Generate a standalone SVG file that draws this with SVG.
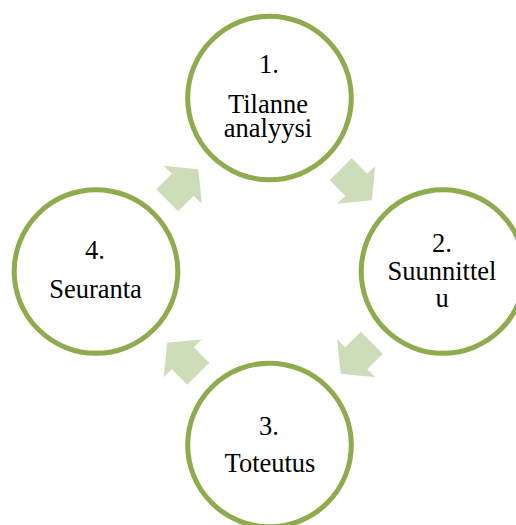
<svg xmlns="http://www.w3.org/2000/svg" width="516" height="525" viewBox="0 0 516 525">
<defs>
<style>
.node circle{fill:#ffffff;stroke:#8eac4e;stroke-width:5}
.node text{font-family:"Liberation Serif","Times New Roman",serif;font-size:26.5px;fill:#000;text-anchor:middle}
.arrow{fill:#cddcb9}
</style>
<polygon id="arr" points="-22,-15.5 0,-15.5 0,-27 22,0 0,27 0,15.5 -22,15.5"/>
</defs>
<rect width="516" height="525" fill="#ffffff"/>
<g id="connectors">
<use href="#arr" class="arrow" transform="translate(356.25,184.75) rotate(45)"/>
<use href="#arr" class="arrow" transform="translate(356.25,358.25) rotate(135)"/>
<use href="#arr" class="arrow" transform="translate(182.75,358.25) rotate(-135)"/>
<use href="#arr" class="arrow" transform="translate(182.75,184.75) rotate(-45)"/>
</g>
<g id="node1" class="node">
<circle cx="269.5" cy="98" r="81.8"/>
<text x="269" y="73.3">1.</text>
<text><tspan x="268" y="112.7">Tilanne</tspan><tspan x="268" y="137.3">analyysi</tspan></text>
</g>
<g id="node2" class="node">
<circle cx="443" cy="271.5" r="81.8"/>
<text x="442" y="251.7">2.</text>
<text><tspan x="442" y="280">Suunnittel</tspan><tspan x="442" y="306.7">u</tspan></text>
</g>
<g id="node3" class="node">
<circle cx="269.5" cy="445" r="81.8"/>
<text x="269" y="435">3.</text>
<text x="270" y="471.7">Toteutus</text>
</g>
<g id="node4" class="node">
<circle cx="96" cy="271.5" r="81.8"/>
<text x="95" y="259.3">4.</text>
<text x="95.5" y="298.3">Seuranta</text>
</g>
</svg>
